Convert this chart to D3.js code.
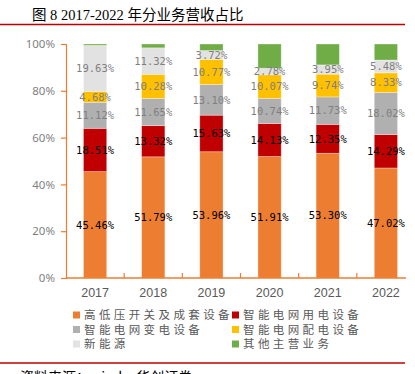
<!DOCTYPE html>
<html><head><meta charset="utf-8">
<script src="https://cdn.jsdelivr.net/npm/d3@7"></script>
<style>body{margin:0;background:#fff;}svg{display:block;}</style>
</head><body>
<svg id="c" width="415" height="374"></svg>
<script>
const years = ["2017","2018","2019","2020","2021","2022"];
const seriesNames = ["高低压开关及成套设备","智能电网用电设备","智能电网变电设备","智能电网配电设备","新能源","其他主营业务"];
const seriesColors = ["#ED7D31","#C00000","#B0B0B0","#FFC000","#E2E2E2","#70AD47"];
const labelColors = ["#000","#000","#7f7f7f","#7f7f7f","#7f7f7f",null];
const switchgear = [45.46,51.79,53.96,51.91,53.30,47.02];
const consumption = [18.51,13.32,15.63,14.13,12.35,14.29];
const substation = [11.12,11.65,13.10,10.74,11.73,18.02];
const distribution = [4.68,10.28,10.77,10.07,9.74,8.33];
const newEnergy = [19.63,11.32,3.72,2.78,3.95,5.48];
const other = [0.60,1.64,2.82,10.37,8.93,6.86];
const yTicks = [0,20,40,60,80,100];
const title = "图 8 2017-2022 年分业务营收占比";
const source = "资料来源：wind，华创证券";

const values = [switchgear,consumption,substation,distribution,newEnergy,other];
const svg = d3.select("#c");
const x = d3.scaleBand().domain(years).range([66,415]).paddingInner(0.6).paddingOuter(0.3);
const y = d3.scaleLinear().domain([0,100]).range([278,44]);
const axisColor = "#ED7D31";

// title
svg.append("text").attr("x",32).attr("y",20).attr("font-family","'Liberation Serif','Noto Sans CJK SC'")
  .attr("font-size",14.5).attr("fill","#000").text(title);
svg.append("line").attr("x1",0).attr("x2",405).attr("y1",24.5).attr("y2",24.5).attr("stroke","#C00000").attr("stroke-width",1.5);

// stacks
const rows = years.map((yr,i)=>{const o={year:yr}; seriesNames.forEach((s,j)=>o[s]=values[j][i]); return o;});
const stack = d3.stack().keys(seriesNames)(rows);
stack.forEach((layer,j)=>{
  const g = svg.append("g");
  g.selectAll("rect").data(layer).join("rect")
    .attr("x",d=>x(d.data.year)).attr("width",x.bandwidth())
    .attr("y",d=>y(d[1])).attr("height",d=>y(d[0])-y(d[1]))
    .attr("fill",seriesColors[j]).attr("stroke","#fff").attr("stroke-opacity",0.4).attr("stroke-width",0.8);
});
stack.forEach((layer,j)=>{
  if(!labelColors[j]) return;
  svg.append("g").selectAll("text").data(layer).join("text")
    .attr("x",d=>x(d.data.year)+x.bandwidth()/2)
    .attr("y",d=>(y(d[0])+y(d[1]))/2)
    .attr("dy","0.36em").attr("text-anchor","middle")
    .attr("font-family","'DejaVu Sans Mono'").attr("font-size",10.5)
    .attr("fill",labelColors[j])
    .text(d=>(d[1]-d[0]).toFixed(2)+"%");
});

// y axis
const ya = svg.append("g").attr("transform","translate(66,0)")
  .call(d3.axisLeft(y).tickValues(yTicks).tickFormat(d=>d+"%").tickSizeOuter(0).tickSize(5).tickPadding(6));
ya.select(".domain").attr("stroke",axisColor).attr("stroke-width",1.2);
ya.selectAll(".tick line").attr("stroke",axisColor).attr("stroke-width",1.2);
ya.selectAll(".tick text").attr("font-family","'Noto Sans','Liberation Sans'").attr("font-size",11.5).attr("fill","#7f7f7f");

// x axis
const xa = svg.append("g").attr("transform","translate(0,278)")
  .call(d3.axisBottom(x).tickSize(0).tickPadding(10));
xa.select(".domain").remove();
svg.append("line").attr("x1",66).attr("x2",406).attr("y1",278).attr("y2",278).attr("stroke",axisColor).attr("stroke-width",1.5);
const gap = (x.step()-x.bandwidth())/2;
svg.append("g").selectAll("line").data(years.slice(1)).join("line")
  .attr("x1",d=>x(d)-gap).attr("x2",d=>x(d)-gap)
  .attr("y1",278).attr("y2",273).attr("stroke",axisColor).attr("stroke-width",1.2);
xa.selectAll(".tick text").attr("font-family","'Liberation Sans','Noto Sans'").attr("font-size",12.5).attr("fill","#595959");

// legend
const legPos = [[73,315],[232,315],[73,329.5],[232,329.5],[73,344],[232,344]];
seriesNames.forEach((s,j)=>{
  const [lx,ly] = legPos[j];
  svg.append("rect").attr("x",lx).attr("y",ly-3.5).attr("width",7).attr("height",7).attr("fill",seriesColors[j]);
  svg.append("text").attr("x",lx+11).attr("y",ly).attr("dy","0.36em")
    .attr("font-family","'Noto Sans CJK SC'").attr("font-size",11.5).attr("letter-spacing",3.4)
    .attr("fill","#595959").text(s);
});

// source
svg.append("line").attr("x1",0).attr("x2",405).attr("y1",363).attr("y2",363).attr("stroke","#C00000").attr("stroke-width",1.5);
svg.append("text").attr("x",20).attr("y",382).attr("font-family","'Noto Sans CJK SC'").attr("font-size",14).attr("fill","#000").text(source);
</script>
</body></html>
